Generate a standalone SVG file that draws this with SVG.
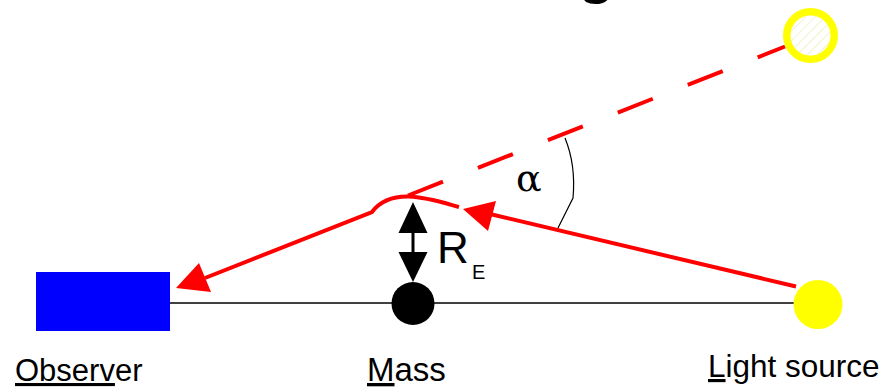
<svg xmlns="http://www.w3.org/2000/svg" width="885" height="390" viewBox="0 0 885 390">
<style>
.lbl{font-family:"Liberation Sans",Arial,sans-serif;font-size:31px;fill:#000}
.ray{fill:none;stroke:#ff0000;stroke-width:4}
.head{fill:#ff0000;stroke:none}
.u{text-decoration:underline}
</style>
<defs>
<pattern id="hatch" patternUnits="userSpaceOnUse" width="7" height="7" patternTransform="rotate(45)">
<line x1="0" y1="0" x2="0" y2="7" stroke="#e6e6a0" stroke-width="1"/>
</pattern>
</defs>
<rect width="885" height="390" fill="#fff"/>
<text x="578" y="-8" style="font-family:'Liberation Sans',Arial,sans-serif;font-size:60px;font-weight:bold">g</text>
<g id="connectors">
<line x1="170" y1="303" x2="795" y2="303" stroke="#000" stroke-width="1.5"/>
<line class="ray" x1="408" y1="195.5" x2="785" y2="46.5" stroke-dasharray="37.6 37.6"/>
<line class="ray" x1="796" y1="286.5" x2="490" y2="214"/>
<polygon class="head" points="463,209 496,201 488,231"/>
<path class="ray" d="M459,207 C430,199 392,186 372,212 L205,278"/>
<polygon class="head" points="176,288 199,263 211,292"/>
<line x1="413" y1="228" x2="413" y2="256" stroke="#000" stroke-width="3"/>
<polygon points="413,202 427.5,233 398.5,233" fill="#000"/>
<polygon points="413,282 427.5,252 398.5,252" fill="#000"/>
<path d="M565,138 Q576,165 573,198 L558,228" fill="none" stroke="#000" stroke-width="1.2"/>
</g>
<g id="observer">
<rect x="36" y="272" width="134" height="59" fill="#0000ff"/>
<text class="lbl" x="15" y="381"><tspan class="u">Observ</tspan>er</text>
</g>
<g id="mass">
<circle cx="413" cy="303.5" r="21.5" fill="#000"/>
<text class="lbl" x="367" y="381" style="font-size:33px"><tspan class="u">M</tspan>ass</text>
</g>
<g id="light-source">
<circle cx="818" cy="304.5" r="24.5" fill="#ffff00"/>
<text class="lbl" x="708" y="377" style="font-size:31.5px"><tspan class="u">L</tspan>ight source</text>
</g>
<g id="apparent-source">
<circle cx="810.5" cy="35.5" r="23.75" fill="url(#hatch)" stroke="#ffff00" stroke-width="7.5"/>
</g>
<g id="labels">
<text x="437" y="263" style="font-family:'Liberation Sans',Arial,sans-serif;font-size:44px">R</text>
<text x="472" y="279" style="font-family:'Liberation Sans',Arial,sans-serif;font-size:20px">E</text>
<text x="516" y="191" style="font-family:'DejaVu Serif','Liberation Serif',serif;font-size:38px">α</text>
</g>
</svg>
